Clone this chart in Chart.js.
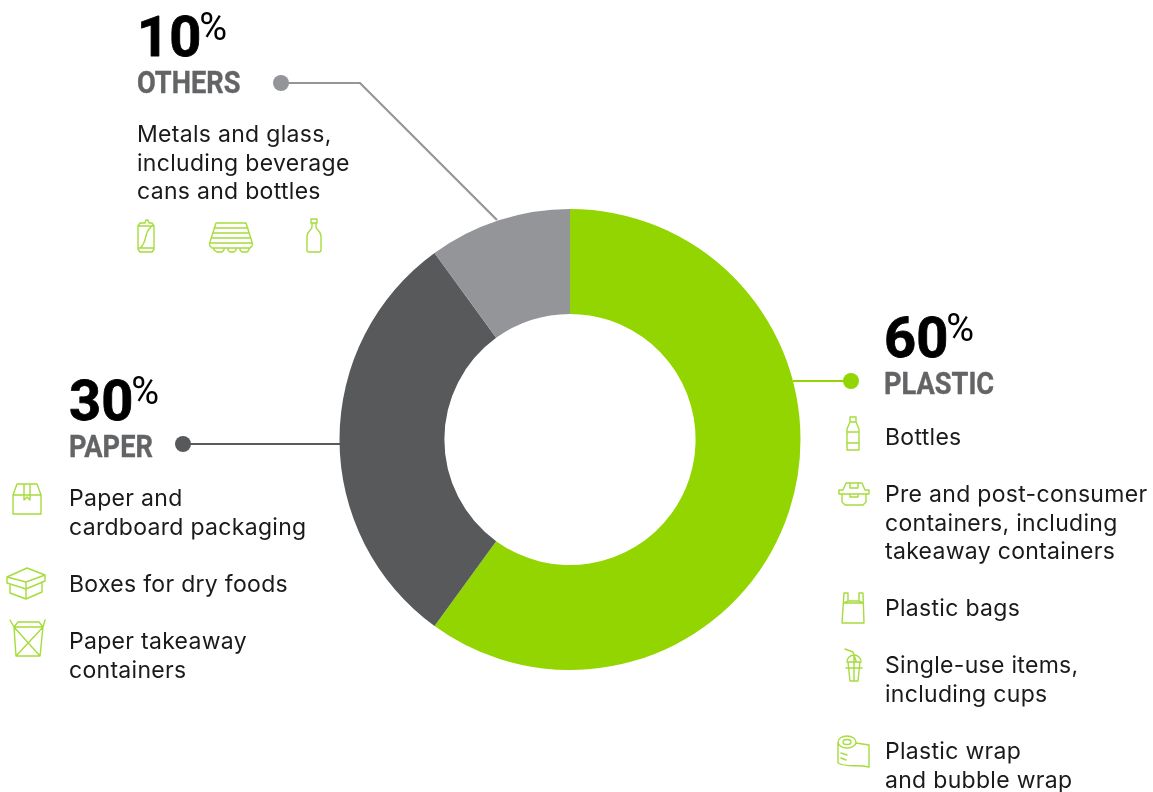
<!DOCTYPE html>
<html>
<head>
<meta charset="utf-8">
<title>Packaging waste by material</title>
<script src="https://cdn.jsdelivr.net/npm/chart.js@4"></script>
<style>
  html, body { margin: 0; padding: 0; background: #fff; overflow: hidden; }
  canvas { display: block; }
</style>
</head>
<body>
<canvas id="wasteChart" width="1153" height="792"></canvas>
<script>
// Share of waste by material
const categories = ['PLASTIC', 'PAPER', 'OTHERS'];
const shares = [60, 30, 10];
const sliceColors = ['#93d500', '#58595b', '#939598'];

const plasticItems = [
    ['Bottles'],
    ['Pre and post-consumer', 'containers, including', 'takeaway containers'],
    ['Plastic bags'],
    ['Single-use items,', 'including cups'],
    ['Plastic wrap', 'and bubble wrap']
];
const paperItems = [
    ['Paper and', 'cardboard packaging'],
    ['Boxes for dry foods'],
    ['Paper takeaway', 'containers']
];
const otherItems = [
    ['Metals and glass,', 'including beverage', 'cans and bottles']
];

const BODY_FONT = '23px Inter, "Open Sans", sans-serif';
const ICON_GREEN = '#a6dc3c';

function drawLines(c, lines, x, y) {
    c.font = BODY_FONT;
    c.letterSpacing = '0.3px';
    c.fillStyle = '#1a1a1a';
    c.textAlign = 'left';
    c.textBaseline = 'alphabetic';
    lines.forEach((line, i) => c.fillText(line, x, y + i * 28.5));
    c.letterSpacing = '0px';
}

// Big percentage, small raised % sign and the condensed category name
function drawHeading(c, index, x, y) {
    c.textAlign = 'left';
    c.textBaseline = 'alphabetic';
    c.fillStyle = '#000';
    c.strokeStyle = '#000';
    c.lineWidth = 0.8;
    c.lineJoin = 'round';
    c.font = 'bold 56px Roboto, sans-serif';
    const num = String(shares[index]);
    c.fillText(num, x, y);
    c.strokeText(num, x, y);
    const w = c.measureText(num).width;
    c.font = '400 38px Roboto, sans-serif';
    c.fillText('%', x + w - 2, y - 16);

    c.save();
    c.translate(x, y + 37);
    c.scale(0.85, 1);
    c.font = 'bold 32px "Liberation Sans Narrow", Roboto, sans-serif';
    c.fillStyle = '#636466';
    c.strokeStyle = '#636466';
    c.lineWidth = 0.4;
    c.fillText(categories[index], 0, 0);
    c.strokeText(categories[index], 0, 0);
    c.restore();
}

function drawLeader(c, points, color, width) {
    c.strokeStyle = color;
    c.lineWidth = width;
    c.lineJoin = 'miter';
    c.beginPath();
    points.forEach((p, i) => i ? c.lineTo(p[0], p[1]) : c.moveTo(p[0], p[1]));
    c.stroke();
    c.fillStyle = color;
    c.beginPath();
    c.arc(points[0][0], points[0][1], 8, 0, Math.PI * 2);
    c.fill();
}

function drawIcon(c, x, y, path) {
    c.save();
    c.translate(x, y);
    c.strokeStyle = ICON_GREEN;
    c.lineWidth = 1.4;
    c.lineJoin = 'round';
    c.lineCap = 'round';
    c.stroke(new Path2D(path));
    c.restore();
}

// Line icons, each in its own local coordinates
const ICONS = {
    can: 'M1 6 L3 3 H8 L9 0 H11 L12 3 H15 L17 6 V29 L15 32 H3 L1 29 Z M1 6 H17 M1 28 H17 M4 27 C11 20 6 14 14 7',
    pallet: 'M7 1 H37 L43 20 Q44 22 43 24 L41 26 H3 L1 24 Q0 22 1 20 Z M5 6 H39 M4 11 H40 M3 16 H41 M1 21 H43 M5 26 V28 L8 30 H13 L15 28 V26 M19 26 V28 L21 30 H25 L27 28 V26 M31 26 V28 L33 30 H38 L40 28 V26',
    milk: 'M4 0 H10 V4 H4 Z M5 4 V8 C5 11 0 12 0 17 V31 Q0 33 2 33 H12 Q14 33 14 31 V17 C14 12 9 11 9 8 V4',
    parcel: 'M0 12 L4 1 H24 L28 12 V31 H0 Z M0 12 H28 M11 1 V17 L14 14 L17 17 V1',
    box: 'M0 9 L20 0 L38 7 L19 14 Z M0 9 V15 L19 21 L38 13 V7 M3 16 V25 L19 31 L35 24 V14 M19 14 V31',
    takeaway: 'M0 0 L4 7 L6 36 H30 L33 7 L35 0 M4 7 L8 2 H29 L33 7 Z M4 7 L30 36 M33 7 L6 36',
    bottle: 'M4 0 H10 V5 H4 Z M4 5 L1 12 V33 H13 V12 L10 5 M1 15 H13 M1 26 H13',
    clamshell: 'M5 8 L8 1 H24 L27 8 H31 V12 H1 V8 Z M12 1 V6 H20 V1 M1 12 H31 M4 12 V20 L7 23 H25 L28 20 V12 M12 12 V15 H20 V12',
    bag: 'M2 0 H6 V8 H17 V0 H21 L22 30 H0 Z M6 8 L2 10 M17 8 L21 10 M2 10 H21',
    cup: 'M0 0 L8 3 L11 12 M2 13 A7 7 0 0 1 16 13 Z M2 13 H16 M3 13 L5 32 H13 L15 13 M1 19 H17 M9 6 V32',
    wrap: 'M1 7 A9 6 0 1 1 19 7 A9 6 0 1 1 1 7 M6 7 A4 2.5 0 1 1 14 7 A4 2.5 0 1 1 6 7 M1 7 V28 C10 33 20 29 32 32 V10 L19 8 M4 18 L10 20 M4 23 L9 25'
};

// Draws the annotations around the ring from the chart's own slices
const annotations = {
    id: 'annotations',
    afterDraw(chart) {
        const c = chart.ctx;
        c.save();

        drawLeader(c, [[851, 381], [793, 381]], sliceColors[0], 2.2);
        drawLeader(c, [[183, 444], [340, 444]], sliceColors[1], 2.2);
        drawLeader(c, [[281, 83], [360, 83], [497, 220]], sliceColors[2], 2.2);

        drawHeading(c, 0, 884, 357);
        drawHeading(c, 1, 69, 420);
        drawHeading(c, 2, 137, 56);

        drawLines(c, otherItems[0], 137, 142);

        drawLines(c, plasticItems[0], 885, 445);
        drawLines(c, plasticItems[1], 885, 502);
        drawLines(c, plasticItems[2], 885, 616);
        drawLines(c, plasticItems[3], 885, 673);
        drawLines(c, plasticItems[4], 885, 759);

        drawLines(c, paperItems[0], 69, 506);
        drawLines(c, paperItems[1], 69, 592);
        drawLines(c, paperItems[2], 69, 649);

        drawIcon(c, 137, 220, ICONS.can);
        drawIcon(c, 209, 222, ICONS.pallet);
        drawIcon(c, 307, 219, ICONS.milk);

        drawIcon(c, 846, 417, ICONS.bottle);
        drawIcon(c, 838, 482, ICONS.clamshell);
        drawIcon(c, 842, 593, ICONS.bag);
        drawIcon(c, 845, 649, ICONS.cup);
        drawIcon(c, 837, 735, ICONS.wrap);

        drawIcon(c, 13, 483, ICONS.parcel);
        drawIcon(c, 7, 568, ICONS.box);
        drawIcon(c, 10, 620, ICONS.takeaway);

        c.restore();
    }
};

const ctx = document.getElementById('wasteChart').getContext('2d');

let wasteChart = new Chart(ctx, {
    type: 'doughnut',
    data: {
        labels: categories,
        datasets: [{
            data: shares,
            backgroundColor: sliceColors,
            borderWidth: 0
        }]
    },
    options: {
        responsive: false,
        animation: false,
        cutout: '54.5%',
        layout: {
            padding: { left: 339, right: 352, top: 209, bottom: 122 }
        },
        plugins: {
            legend: { display: false },
            title: { display: false },
            tooltip: { enabled: false }
        }
    },
    plugins: [annotations]
});
</script>
</body>
</html>
